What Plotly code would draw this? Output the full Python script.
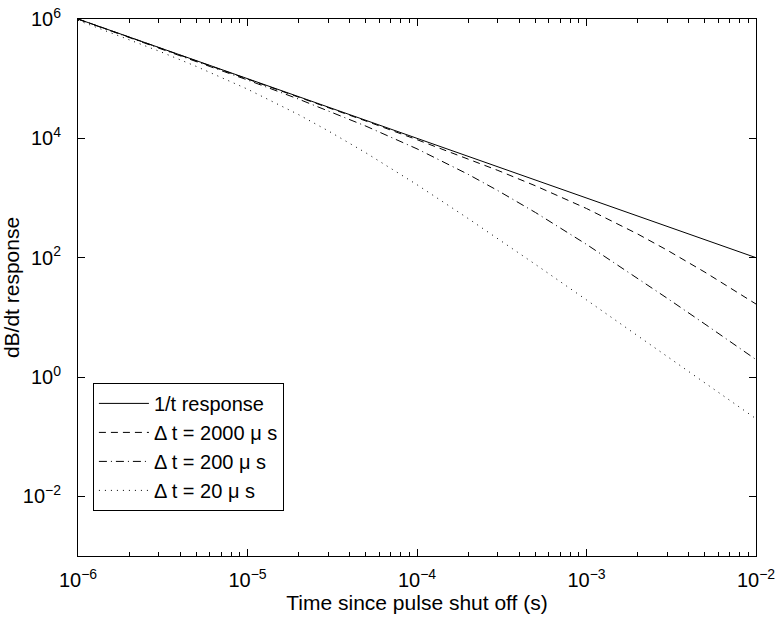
import plotly.graph_objects as go

# Time since pulse shut off (s)
t = [1e-6, 2e-6, 3e-6, 5e-6, 1e-5, 2e-5, 3e-5, 5e-5, 1e-4, 2e-4, 3e-4, 5e-4,
     1e-3, 2e-3, 3e-3, 5e-3, 1e-2]

# dB/dt response values
resp_1_over_t = [1.0e6, 5.0e5, 3.33e5, 2.0e5, 1.0e5, 5.0e4, 3.33e4, 2.0e4, 1.0e4,
                 5.0e3, 3.33e3, 2.0e3, 1.0e3, 500, 333, 200, 100]
resp_2000us = [1.0e6, 4.99e5, 3.33e5, 1.99e5, 9.95e4, 4.95e4, 3.28e4, 1.95e4, 9.5e3,
               4.55e3, 2.9e3, 1.6e3, 667, 250, 133, 57, 16.7]
resp_200us = [9.95e5, 4.95e5, 3.28e5, 1.95e5, 9.5e4, 4.55e4, 2.9e4, 1.6e4, 6.67e3,
              2.5e3, 1.33e3, 571, 167, 45.5, 20.8, 7.7, 1.96]
resp_20us = [9.5e5, 4.55e5, 2.9e5, 1.6e5, 6.67e4, 2.5e4, 1.33e4, 5.7e3, 1.67e3,
             455, 208, 77, 19.6, 4.95, 2.2, 0.8, 0.2]

series_names = ["1/t response", "\u0394 t = 2000 \u03bc s", "\u0394 t = 200 \u03bc s",
                "\u0394 t = 20 \u03bc s"]
series_vals = [resp_1_over_t, resp_2000us, resp_200us, resp_20us]
dashes = ["solid", "7px,5px", "8px,4px,1px,4px", "1px,5px"]

x_tickvals = [1e-6, 1e-5, 1e-4, 1e-3, 1e-2]
x_ticktext = ["10<sup>\u22126</sup>", "10<sup>\u22125</sup>", "10<sup>\u22124</sup>",
              "10<sup>\u22123</sup>", "10<sup>\u22122</sup>"]
x_minor = [m * 10.0 ** e for e in range(-6, -2) for m in range(2, 10)]
y_tickvals = [1e-2, 1e0, 1e2, 1e4, 1e6]
y_ticktext = ["10<sup>\u22122</sup>", "10<sup>0</sup>", "10<sup>2</sup>",
              "10<sup>4</sup>", "10<sup>6</sup>"]

FONT = "Liberation Sans, Arial, Helvetica, sans-serif"

fig = go.Figure()
for name, vals, d in zip(series_names, series_vals, dashes):
    fig.add_trace(go.Scatter(x=t, y=vals, mode="lines", name=name,
                             line=dict(color="black", width=1, dash=d)))

fig.update_layout(
    width=777, height=620,
    margin=dict(l=78, r=21, t=19, b=64, autoexpand=False),
    paper_bgcolor="white", plot_bgcolor="white",
    font=dict(family=FONT, size=20, color="black"),
    showlegend=True,
    legend=dict(x=0.022, y=0.084, xanchor="left", yanchor="bottom",
                bgcolor="white", bordercolor="black", borderwidth=1,
                font=dict(size=20), tracegroupgap=0, itemwidth=50),
)
fig.update_xaxes(
    type="log", range=[-6, -2], automargin=False,
    tickmode="array", tickvals=x_tickvals, ticktext=x_ticktext,
    ticks="inside", ticklen=7, tickwidth=1, tickcolor="black",
    minor=dict(tickmode="array", tickvals=x_minor, ticks="inside", ticklen=4,
               tickwidth=1, tickcolor="black", showgrid=False),
    showline=True, linecolor="black", linewidth=1, mirror="ticks",
    showgrid=False, zeroline=False,
    ticklabelstandoff=6, ticklabeloverflow="allow",
    title=dict(text="Time since pulse shut off (s)", font=dict(size=21), standoff=4),
)
fig.update_yaxes(
    type="log", range=[-3, 6], automargin=False,
    tickmode="array", tickvals=y_tickvals, ticktext=y_ticktext,
    ticks="inside", ticklen=7, tickwidth=1, tickcolor="black",
    showline=True, linecolor="black", linewidth=1, mirror="ticks",
    showgrid=False, zeroline=False,
    ticklabelstandoff=12, ticklabeloverflow="allow",
    title=dict(text="dB/dt response", font=dict(size=21), standoff=2),
)

fig.write_html(
    "out.html",
    config={"displayModeBar": False},
    post_script="document.body.style.margin='0';document.body.style.overflow='hidden';",
)
